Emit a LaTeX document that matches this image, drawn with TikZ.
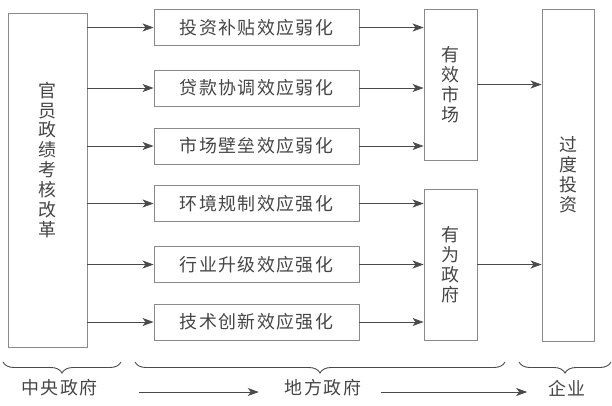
\documentclass[tikz,border=0pt]{standalone}
\usepackage{fontspec}
\newfontfamily\cjk[LetterSpace=8]{Noto Sans CJK SC}
\usetikzlibrary{decorations.pathreplacing, arrows.meta}
\definecolor{boxgray}{HTML}{8A8A8A}
\definecolor{linegray}{HTML}{4A4A4A}
\definecolor{textgray}{HTML}{454545}
\tikzset{
  effbox/.style={draw=boxgray, line width=0.9bp, minimum width=205bp, minimum height=36bp, inner sep=0pt, text=textgray, font=\cjk\fontsize{18}{22}\selectfont},
  tallbox/.style={draw=boxgray, line width=0.9bp, inner sep=0pt, text=textgray, align=center, font=\cjk\fontsize{18}{20}\selectfont},
  vtext/.style={text=textgray, align=center, inner sep=0pt, font=\cjk\fontsize{18}{20}\selectfont},
  lbl/.style={text=textgray, inner sep=0pt, font=\cjk\fontsize{18}{22}\selectfont},
  arr/.style={draw=linegray, line width=0.8bp, -{Stealth[length=11bp,width=8bp,inset=3bp]}},
  brc/.style={draw=linegray, line width=0.9bp, decorate, decoration={brace, mirror, amplitude=11bp}}
}
\begin{document}
\begin{tikzpicture}[x=1bp, y=-1bp]
    \useasboundingbox (0,0) rectangle (612,405);
    % central government
    \node(reform)[tallbox, minimum width=79bp, minimum height=334bp] at (47.5,180) {};
    \node(reform_t)[vtext] at (47.5,160) {官\\员\\政\\绩\\考\\核\\改\\革};
    % effects
    \node(inv)[effbox] at (256.5,27.5) {投资补贴效应弱化};
    \node(loan)[effbox] at (256.5,88) {贷款协调效应弱化};
    \node(barrier)[effbox] at (256.5,146) {市场壁垒效应弱化};
    \node(env)[effbox] at (256.5,203.5) {环境规制效应强化};
    \node(ind)[effbox] at (256.5,264.5) {行业升级效应强化};
    \node(tech)[effbox] at (256.5,322) {技术创新效应强化};
    % market, government, firm
    \node(market)[tallbox, minimum width=53bp, minimum height=151bp] at (450.5,84.5) {有\\效\\市\\场};
    \node(gov)[tallbox, minimum width=53bp, minimum height=151bp] at (450.5,264.5) {有\\为\\政\\府};
    \node(over)[tallbox, minimum width=52bp, minimum height=332bp] at (568,175) {过\\度\\投\\资};
    \foreach \e in {inv,loan,barrier,env,ind,tech}
        \draw[arr] (\e.west -| reform.east) -- (\e.west);
    \foreach \e in {inv,loan,barrier}
        \draw[arr] (\e.east) -- (\e.east -| market.west);
    \foreach \e in {env,ind,tech}
        \draw[arr] (\e.east) -- (\e.east -| gov.west);
    \draw[arr] (market.east) -- (market.east -| over.west);
    \draw[arr] (gov.east) -- (gov.east -| over.west);
    % levels
    \draw[brc] (3,362) -- (121,362);
    \draw[brc] (135,362) -- (505,362);
    \draw[brc] (519,362) -- (611,362);
    \node(central)[lbl] at (59.5,388) {中央政府};
    \node(local)[lbl] at (323,388) {地方政府};
    \node(firm)[lbl] at (567,388) {企业};
    \draw[arr, shorten <=41bp, shorten >=26bp] ([yshift=-4bp]central.east) -- ([yshift=-4bp]local.west);
    \draw[arr, shorten <=20bp, shorten >=21bp] ([yshift=-4bp]local.east) -- ([yshift=-4bp]firm.west);
\end{tikzpicture}
\end{document}
